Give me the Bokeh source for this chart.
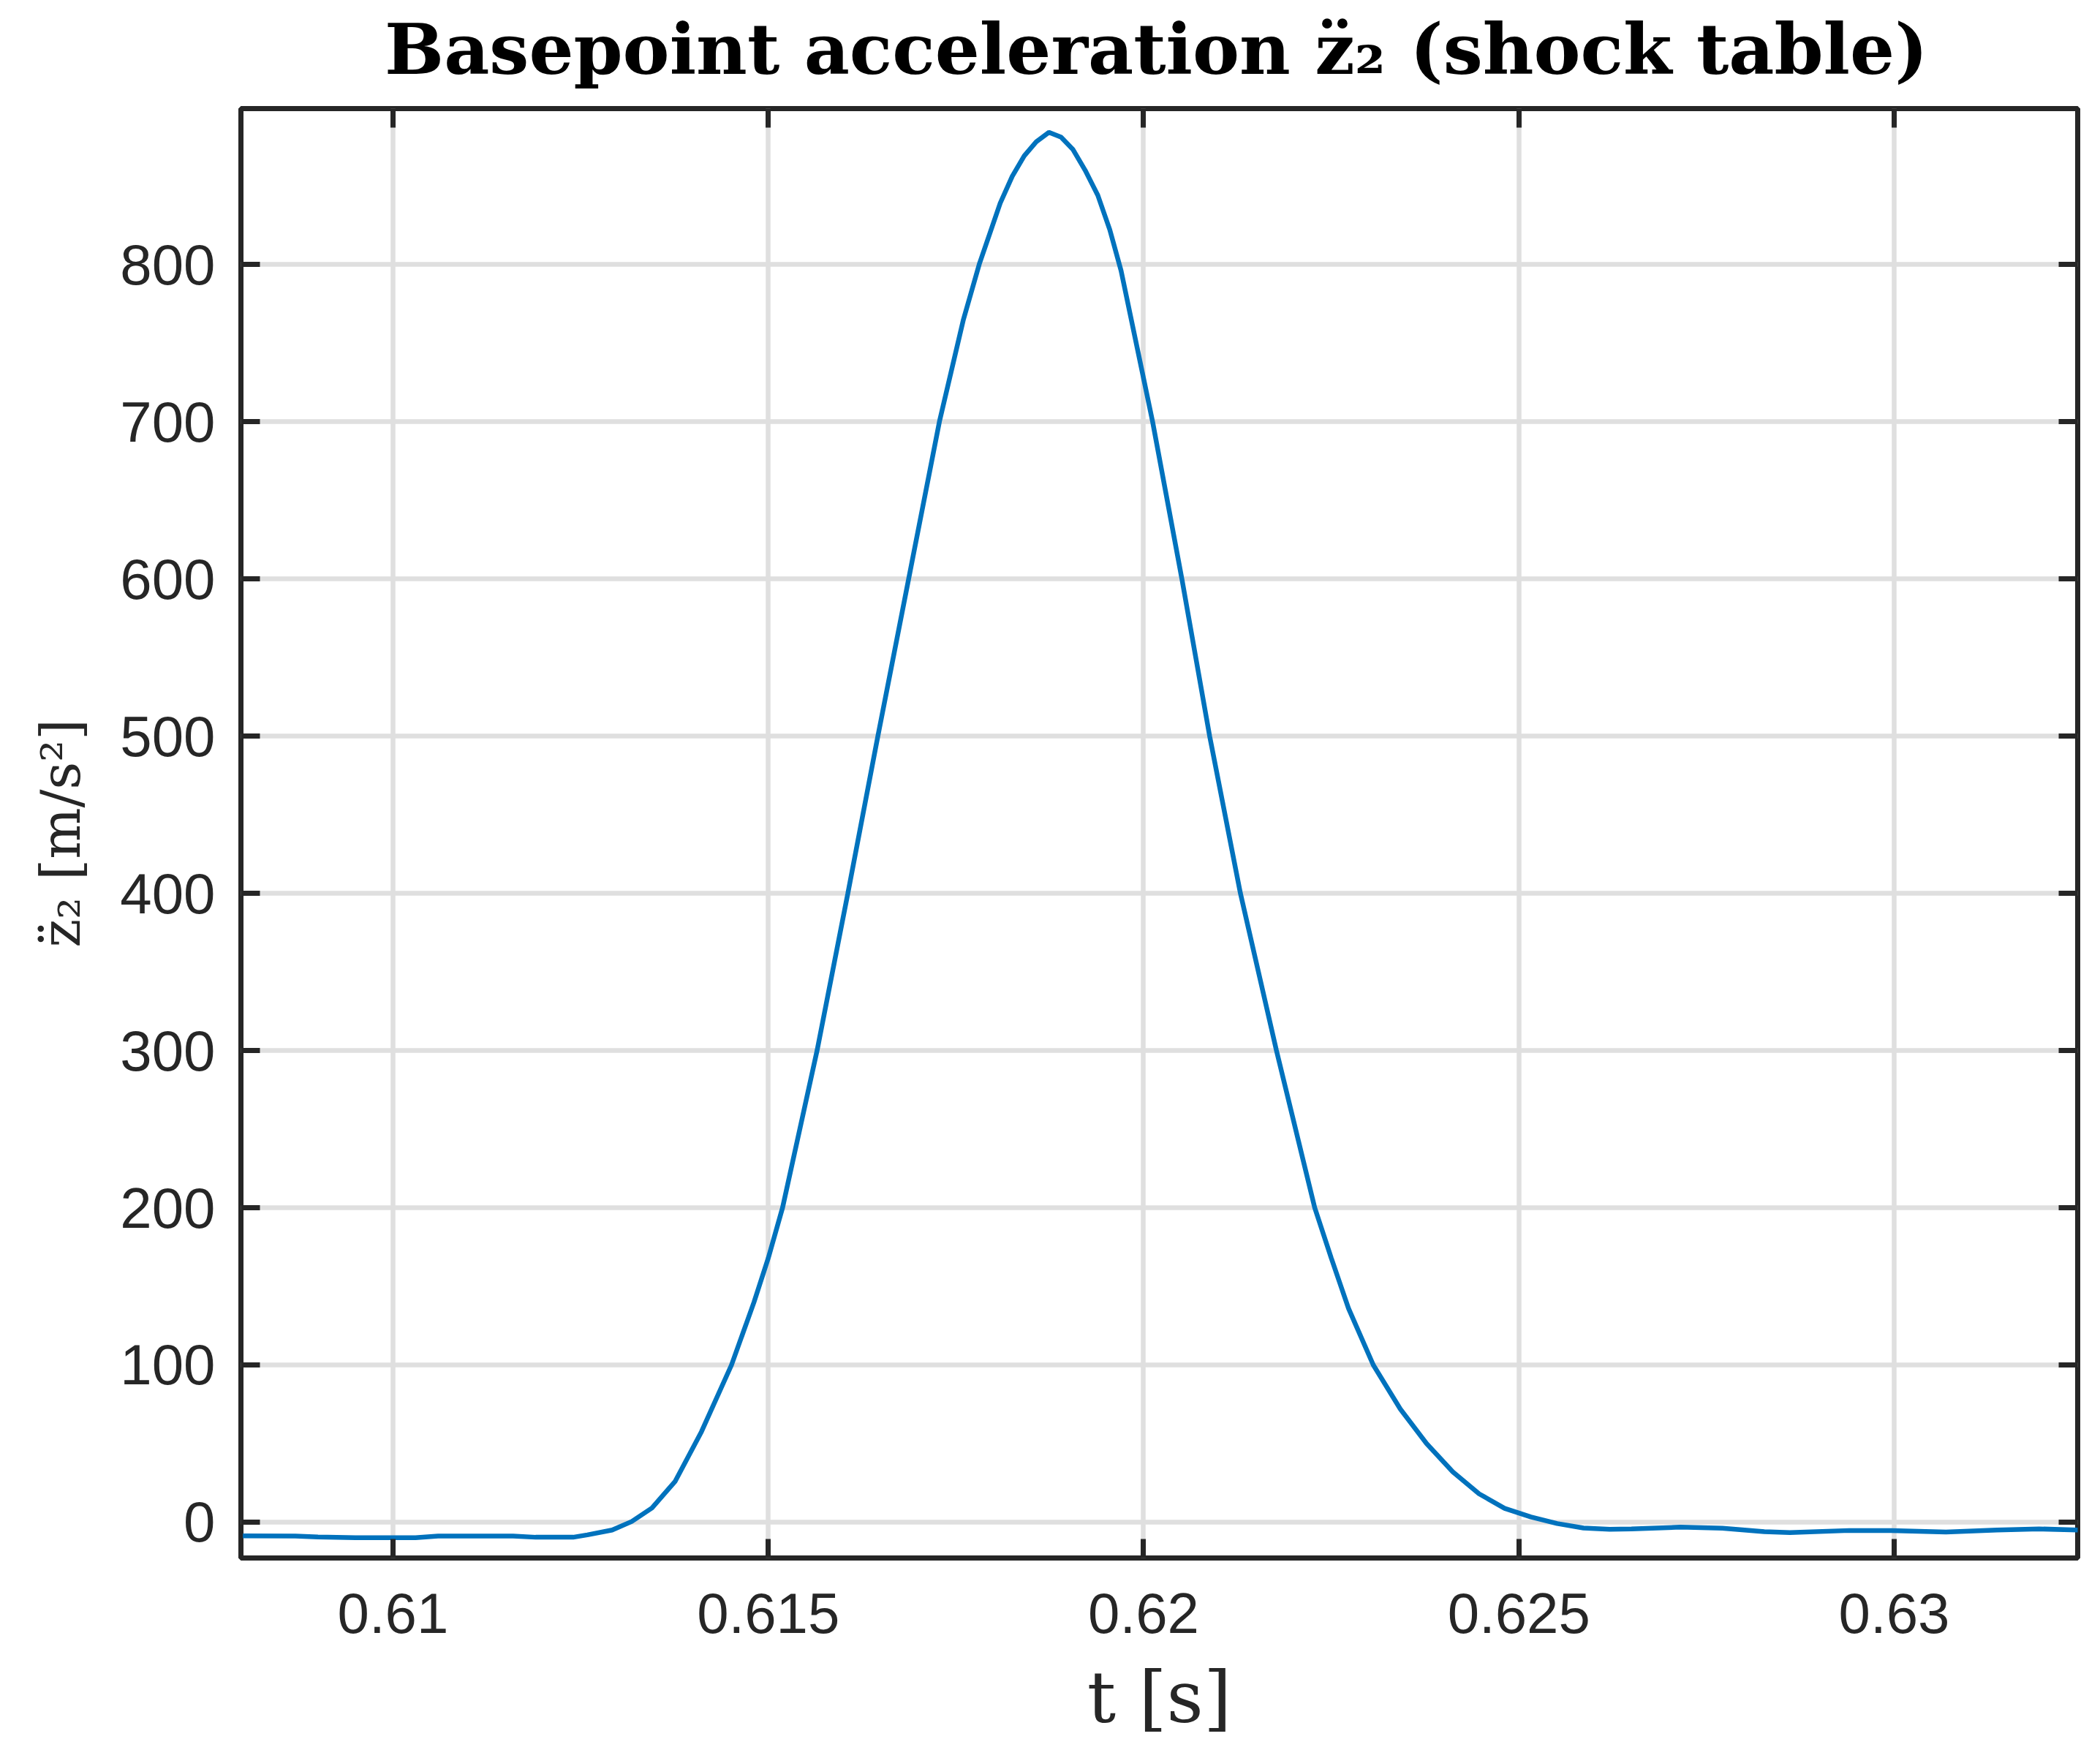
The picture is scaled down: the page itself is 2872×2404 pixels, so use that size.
from bokeh.plotting import figure
from bokeh.models import LinearAxis, FixedTicker, Range1d, Div, Spacer
from bokeh.layouts import column, row
from bokeh.embed import file_html
from bokeh.resources import INLINE

# ---- data ----
t_s = [0.60800, 0.60870, 0.60900, 0.60950, 0.61030, 0.61060, 0.61160, 0.61190,
       0.61240, 0.61259, 0.61292, 0.61318, 0.61345, 0.61376, 0.61411, 0.61451,
       0.61481, 0.61500, 0.61519, 0.61565, 0.61606, 0.61646, 0.61687, 0.61728,
       0.61760, 0.61781, 0.61809, 0.61825, 0.61841, 0.61857, 0.61874, 0.61890,
       0.61906, 0.61922, 0.61939, 0.61955, 0.61970, 0.62012, 0.62051, 0.62088,
       0.62129, 0.62177, 0.62228, 0.62250, 0.62273, 0.62306, 0.62342, 0.62377,
       0.62412, 0.62447, 0.62481, 0.62516, 0.62551, 0.62586, 0.62621, 0.62650,
       0.62715, 0.62771, 0.62827, 0.62861, 0.62940, 0.62996, 0.63069, 0.63137,
       0.63193, 0.63246]
accel = [-8.7, -8.8, -9.4, -9.9, -9.9, -8.9, -8.9, -9.6,
         -9.6, -8.1, -5.0, 0.4, 9.0, 26.0, 57.6, 100.0,
         140.0, 168.0, 200.0, 300.0, 400.0, 500.0, 600.0, 700.0,
         765.0, 800.0, 839.0, 856.0, 869.0, 878.0, 884.0, 881.0,
         873.0, 860.0, 844.0, 822.0, 796.0, 700.0, 600.0, 500.0,
         400.0, 300.0, 200.0, 168.0, 136.0, 100.0, 72.0, 50.0,
         32.0, 18.0, 8.8, 3.3, -0.9, -3.7, -4.5, -4.3,
         -3.2, -3.8, -6.1, -6.6, -5.3, -5.3, -6.3, -5.0,
         -4.3, -5.0]

x_ticks = [0.61, 0.615, 0.62, 0.625, 0.63]
x_tick_labels = ["0.61", "0.615", "0.62", "0.625", "0.63"]
y_ticks = [0, 100, 200, 300, 400, 500, 600, 700, 800]
y_tick_labels = ["0", "100", "200", "300", "400", "500", "600", "700", "800"]

title_text = "Basepoint acceleration z\u0308\u2082 (shock table)"
x_label = "t [s]"
y_label = "z\u0308\u2082 [m/s\u00b2]"

AX = "#262626"
LEFT = 329
FRAME_W = 2512
FRAME_H = 1982

p = figure(frame_width=FRAME_W, frame_height=FRAME_H,
           x_range=Range1d(0.607974, 0.632445), y_range=Range1d(-22.8, 899.1),
           output_backend="svg", toolbar_location=None,
           min_border_left=LEFT, min_border_right=12, min_border_top=20,
           min_border_bottom=10,
           background_fill_color="white", border_fill_color="white")
p.title.visible = False

p.outline_line_color = AX
p.outline_line_width = 7
p.outline_line_alpha = 1.0

p.line(t_s, accel, line_color="#0072BD", line_width=6.5)

bottom_ax = p.below[0]
left_ax = p.left[0]

bottom_ax.ticker = FixedTicker(ticks=x_ticks)
left_ax.ticker = FixedTicker(ticks=y_ticks)
bottom_ax.major_label_overrides = dict(zip(x_ticks, x_tick_labels))
left_ax.major_label_overrides = dict(zip(y_ticks, y_tick_labels))
p.xgrid.ticker = FixedTicker(ticks=x_ticks)
p.ygrid.ticker = FixedTicker(ticks=y_ticks)
p.grid.grid_line_color = "#DFDFDF"
p.grid.grid_line_width = 6.5

top_ax = LinearAxis(ticker=FixedTicker(ticks=x_ticks),
                    major_label_overrides={v: "" for v in x_ticks})
right_ax = LinearAxis(ticker=FixedTicker(ticks=y_ticks),
                      major_label_overrides={v: "" for v in y_ticks})
p.add_layout(top_ax, "above")
p.add_layout(right_ax, "right")

for ax in [bottom_ax, left_ax, top_ax, right_ax]:
    ax.axis_line_color = None
    ax.major_tick_in = 26
    ax.major_tick_out = 0
    ax.major_tick_line_color = AX
    ax.major_tick_line_width = 7
    ax.minor_tick_line_color = None
    ax.major_label_text_color = AX
    ax.major_label_text_font = "Liberation Sans"
    ax.major_label_text_font_size = "78px"

for ax in [top_ax, right_ax]:
    ax.major_label_standoff = 0
    ax.major_label_text_font_size = "2px"

bottom_ax.major_label_standoff = 48
left_ax.major_label_standoff = 35

bottom_ax.axis_label = x_label
bottom_ax.axis_label_text_font = "DejaVu Serif"
bottom_ax.axis_label_text_font_style = "normal"
bottom_ax.axis_label_text_font_size = "98px"
bottom_ax.axis_label_text_color = AX
bottom_ax.axis_label_standoff = 28

left_ax.axis_label = y_label
left_ax.axis_label_text_font = "DejaVu Serif"
left_ax.axis_label_text_font_style = "normal"
left_ax.axis_label_text_font_size = "74px"
left_ax.axis_label_text_color = AX
left_ax.axis_label_standoff = 35

title_div = Div(
    text=('<div style="font-family:\'DejaVu Serif\';font-weight:bold;'
          'font-size:96px;line-height:116px;color:#000000;text-align:left;'
          'white-space:nowrap;padding-top:10px;padding-left:197px;">'
          + title_text + '</div>'),
    width=FRAME_W, height=128, margin=(0, 0, 0, 0))
header = row(Spacer(width=LEFT, height=128), title_div, spacing=0)
layout = column(header, p, spacing=0)

open("out.html", "w").write(file_html(layout, INLINE))
